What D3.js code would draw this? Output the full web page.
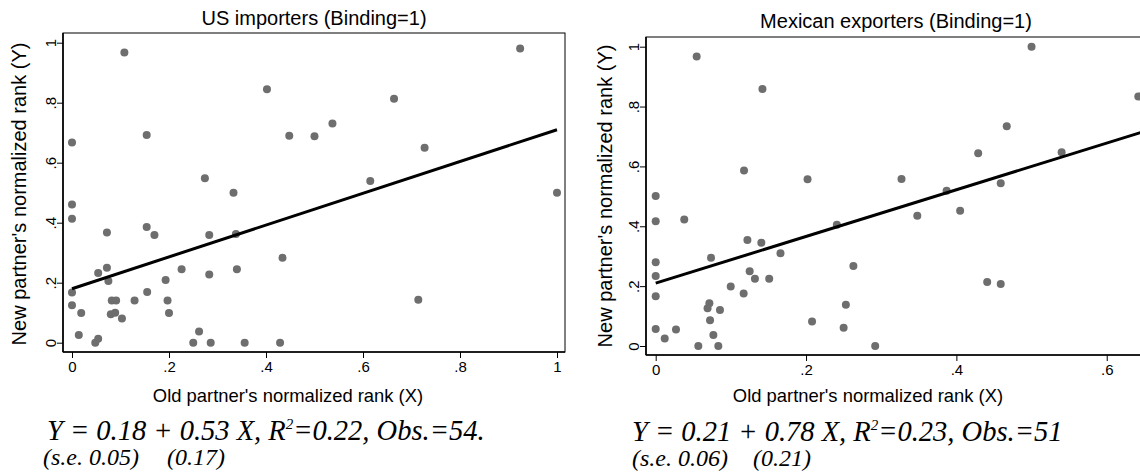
<!DOCTYPE html>
<html lang="en">
<head>
    <meta charset="UTF-8">
    <title>Binding partners</title>
    <script src="https://d3js.org/d3.v7.min.js"></script>
    <style>
        body { margin: 0; background: #fff; }
        svg { display: block; }
        .sans { font-family: Arial, "Liberation Sans", sans-serif; fill: #000; }
        .eq { font-family: "Times New Roman", "Liberation Serif", serif; font-style: italic; fill: #000; }
    </style>
</head>
<body>
<div id="chart"></div>
<script>
    // US importers: old partner rank (X) and new partner rank (Y)
    const usX = [0, 0.108, 0.154, 0.274, 0.333, 0.402, 0.448, 0.924, 0.664, 0.537, 0.5, 0.727, 0.615, 1.0,
        0, 0, 0.154, 0.170, 0.072, 0.283, 0.338, 0.434, 0.054, 0.072, 0.075, 0.226, 0.340, 0.283, 0.193,
        0, 0.155, 0, 0.082, 0.091, 0.129, 0.197, 0.019, 0.080, 0.089, 0.103, 0.2, 0.014, 0.054, 0.048,
        0.25, 0.262, 0.286, 0.356, 0.429, 0.714];
    const usY = [0.667, 0.967, 0.692, 0.548, 0.5, 0.845, 0.69, 0.981, 0.813, 0.731, 0.688, 0.65, 0.539, 0.5,
        0.461, 0.413, 0.386, 0.359, 0.367, 0.359, 0.362, 0.283, 0.232, 0.25, 0.206, 0.245, 0.245, 0.227, 0.209,
        0.167, 0.169, 0.125, 0.141, 0.141, 0.141, 0.141, 0.099, 0.095, 0.1, 0.081, 0.099, 0.026, 0.013, 0,
        0, 0.037, 0, 0, 0, 0.143];

    // Mexican exporters
    const mxX = [0.0545, 0.142, 0.1175, 0.202, 0, 0.5, 0.642, 0.467, 0.429, 0.540, 0.327, 0.387, 0.459,
        0, 0.038, 0.241, 0.122, 0.1405, 0.166, 0.0736, 0, 0, 0.263, 0.125, 0.132, 0.151, 0.0998, 0.117,
        0, 0.0714, 0.069, 0.0855, 0.253, 0.0723, 0.208, 0.250, 0, 0.027, 0.012, 0.0767, 0.0567, 0.0833,
        0.348, 0.405, 0.441, 0.459, 0.292];
    const mxY = [0.967, 0.859, 0.586, 0.557, 0.501, 1.0, 0.834, 0.734, 0.644, 0.647, 0.558, 0.519, 0.544,
        0.417, 0.423, 0.405, 0.354, 0.345, 0.310, 0.295, 0.280, 0.234, 0.267, 0.250, 0.225, 0.225, 0.199, 0.175,
        0.166, 0.143, 0.126, 0.120, 0.138, 0.086, 0.082, 0.061, 0.057, 0.055, 0.025, 0.037, 0, 0,
        0.435, 0.452, 0.214, 0.207, 0];

    const tickValues = [0, 0.2, 0.4, 0.6, 0.8, 1];
    const tickLabels = ["0", ".2", ".4", ".6", ".8", "1"];

    const titles = ["US importers (Binding=1)", "Mexican exporters (Binding=1)"];
    const xLabel = "Old partner's normalized rank (X)";
    const yLabel = "New partner's normalized rank (Y)";
    const intercepts = [0.18, 0.21];
    const slopes = [0.53, 0.78];
    const eqLines = [
        ["Y = 0.18 + 0.53 X, R", "=0.22, Obs.=54."],
        ["Y = 0.21 + 0.78 X, R", "=0.23, Obs.=51"]
    ];
    const seLines = [["(s.e. 0.05)", "(0.17)"], ["(s.e. 0.06)", "(0.21)"]];

    const width = 1140, height = 473;
    const svg = d3.select("#chart").append("svg").attr("width", width).attr("height", height);

    function drawPanel(p) {
        const x = d3.scaleLinear().domain([0, 1]).range([p.x0, p.x1]);
        const y = d3.scaleLinear().domain([0, 1]).range([p.y0, p.y1]);
        const g = svg.append("g");

        // title
        g.append("text").attr("class", "sans").attr("x", p.titleX).attr("y", p.titleY)
            .attr("text-anchor", "middle").style("font-size", "20px").text(p.title);

        // points
        g.selectAll("circle").data(p.xs.map((v, i) => [v, p.ys[i]])).enter().append("circle")
            .attr("cx", d => x(d[0])).attr("cy", d => y(d[1])).attr("r", 4)
            .attr("fill", "#6e6e6e");

        // fitted line
        g.append("line")
            .attr("x1", x(0)).attr("y1", y(p.a))
            .attr("x2", x(p.xEnd)).attr("y2", y(p.a + p.b * p.xEnd))
            .attr("stroke", "#000").attr("stroke-width", 3);

        // frame
        g.append("rect").attr("x", p.bx0).attr("y", p.by0)
            .attr("width", p.bx1 - p.bx0).attr("height", p.by1 - p.by0)
            .attr("fill", "none").attr("stroke", "#000").attr("stroke-width", 1);
        g.append("line").attr("x1", p.bx0).attr("x2", p.bx1).attr("y1", p.by1).attr("y2", p.by1)
            .attr("stroke", "#000").attr("stroke-width", 1.6);
        g.append("line").attr("x1", p.bx0).attr("x2", p.bx0).attr("y1", p.by0).attr("y2", p.by1)
            .attr("stroke", "#000").attr("stroke-width", 1.6);

        // x axis
        const xa = g.append("g").attr("transform", `translate(0,${p.by1})`)
            .call(d3.axisBottom(x).tickValues(p.xTicks).tickSize(6)
                .tickFormat(d => tickLabels[tickValues.indexOf(d)]));
        xa.select(".domain").remove();
        xa.selectAll("text").attr("class", "sans").style("font-size", "15px")
            .attr("fill", "#000").attr("y", 20).attr("dy", null);

        // y axis, labels rotated
        const ya = g.append("g").attr("transform", `translate(${p.bx0},0)`)
            .call(d3.axisLeft(y).tickValues(tickValues).tickSize(6)
                .tickFormat((d, i) => tickLabels[i]));
        ya.select(".domain").remove();
        ya.selectAll("text").attr("class", "sans").style("font-size", "15px")
            .attr("fill", "#000").attr("x", null).attr("dy", null)
            .attr("transform", "translate(-7,0) rotate(-90)")
            .attr("text-anchor", "middle");

        // axis titles
        g.append("text").attr("class", "sans").attr("x", p.xLabX).attr("y", 402)
            .attr("text-anchor", "middle").style("font-size", "18.4px").text(xLabel);
        g.append("text").attr("class", "sans")
            .attr("transform", `translate(${p.yLabX},${p.yLabY}) rotate(-90)`)
            .attr("text-anchor", "middle").style("font-size", "20px").text(yLabel);

        // regression note
        const eq = g.append("text").attr("class", "eq").attr("x", p.eqX).attr("y", p.eqY)
            .style("font-size", "28.5px");
        eq.append("tspan").text(p.eq[0]);
        eq.append("tspan").attr("dy", -11).style("font-size", "15px").text("2");
        eq.append("tspan").attr("dy", 11).text(p.eq[1]);
        g.append("text").attr("class", "eq").attr("x", p.seX[0]).attr("y", p.seY)
            .style("font-size", "24px").text(p.se[0]);
        g.append("text").attr("class", "eq").attr("x", p.seX[1]).attr("y", p.seY)
            .style("font-size", "24px").text(p.se[1]);
    }

    drawPanel({
        xs: usX, ys: usY, a: intercepts[0], b: slopes[0], xEnd: 1,
        x0: 72, x1: 557, y0: 342.7, y1: 42.7,
        bx0: 63, bx1: 565, by0: 33, by1: 352,
        xTicks: tickValues,
        title: titles[0], titleX: 314, titleY: 25,
        xLabX: 288, yLabX: 26, yLabY: 194,
        eq: eqLines[0], se: seLines[0], eqX: 47, eqY: 440,
        seX: [43, 167], seY: 465
    });

    drawPanel({
        xs: mxX, ys: mxY, a: intercepts[1], b: slopes[1], xEnd: 1,
        x0: 655.7, x1: 1407.4, y0: 346, y1: 46.7,
        bx0: 646, bx1: 1430, by0: 37, by1: 355,
        xTicks: tickValues.slice(0, 4),
        title: titles[1], titleX: 896, titleY: 28,
        xLabX: 868, yLabX: 612, yLabY: 196,
        eq: eqLines[1], se: seLines[1], eqX: 632, eqY: 441,
        seX: [632, 753], seY: 466
    });
</script>
</body>
</html>
